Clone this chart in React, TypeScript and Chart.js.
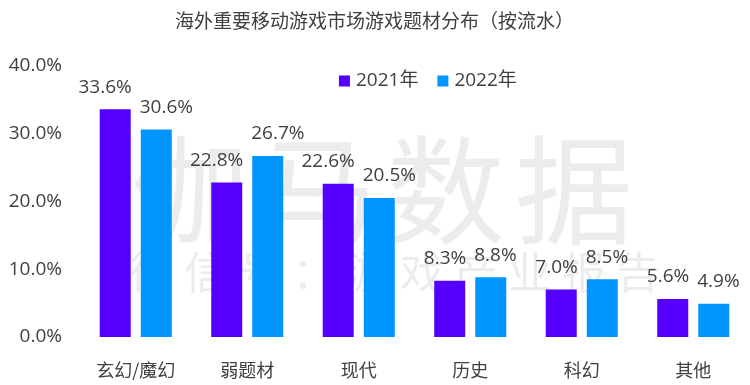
import React, { useEffect, useRef } from "react";
import { Chart, registerables } from "chart.js";

Chart.register(...registerables);

const categories = ["玄幻/魔幻", "弱题材", "现代", "历史", "科幻", "其他"];
const series2021 = [33.6, 22.8, 22.6, 8.3, 7.0, 5.6];
const series2022 = [30.6, 26.7, 20.5, 8.8, 8.5, 4.9];
const seriesNames = ["2021年", "2022年"];
const yTicks = [0, 10, 20, 30, 40];
const titleText = "海外重要移动游戏市场游戏题材分布（按流水）";
const watermarkBig = "伽马数据";
const watermarkSmall = "微信号：游戏产业报告";

const FONT = '"Noto Sans CJK SC", "Noto Sans", sans-serif';
const NUMFONT = '"Open Sans", "Noto Sans CJK SC", sans-serif';
const TEXT = "#404040";
const COLORS = ["#5500FF", "#0096FF"];

const watermarkPlugin = {
  id: "watermark",
  beforeDatasetsDraw(chart: any) {
    const ctx = chart.ctx;
    ctx.save();
    ctx.fillStyle = "rgba(0,0,0,0.075)";
    ctx.textAlign = "center";
    ctx.textBaseline = "middle";
    ctx.font = `118px ${FONT}`;
    const bigStep = 128;
    const bigStart = 190;
    for (let i = 0; i < watermarkBig.length; i++) {
      ctx.fillText(watermarkBig[i], bigStart + i * bigStep, 190);
    }
    ctx.font = `44px ${FONT}`;
    const smStep = 54;
    const smStart = 152;
    for (let i = 0; i < watermarkSmall.length; i++) {
      ctx.fillText(watermarkSmall[i], smStart + i * smStep, 272);
    }
    ctx.restore();
  },
};

const valueLabelPlugin = {
  id: "valueLabels",
  afterDatasetsDraw(chart: any) {
    const ctx = chart.ctx;
    ctx.save();
    ctx.fillStyle = TEXT;
    ctx.font = `19px ${NUMFONT}`;
    ctx.textAlign = "center";
    ctx.textBaseline = "middle";
    const metaA = chart.getDatasetMeta(0);
    const metaB = chart.getDatasetMeta(1);
    const dsA = chart.data.datasets[0].data;
    const dsB = chart.data.datasets[1].data;
    const minGap = 8;
    metaA.data.forEach((barA: any, i: number) => {
      const barB = metaB.data[i];
      const tA = dsA[i].toFixed(1) + "%";
      const tB = dsB[i].toFixed(1) + "%";
      const wA = ctx.measureText(tA).width;
      const wB = ctx.measureText(tB).width;
      let xA = barA.x;
      let xB = barB.x;
      const gap = xB - wB / 2 - (xA + wA / 2);
      if (gap < minGap) {
        const d = (minGap - gap) / 2;
        xA -= d;
        xB += d;
      }
      ctx.fillText(tA, xA, barA.y - 22);
      ctx.fillText(tB, xB, barB.y - 22);
    });
    ctx.restore();
  },
};

const legendPlugin = {
  id: "customLegend",
  afterDraw(chart: any) {
    const ctx = chart.ctx;
    const area = chart.chartArea;
    ctx.save();
    ctx.font = `19px ${NUMFONT}`;
    ctx.textBaseline = "middle";
    ctx.textAlign = "left";
    const box = 11;
    const gapText = 6;
    const gapItem = 19;
    const items = chart.data.datasets.map((ds: any) => ({
      label: ds.label,
      color: ds.backgroundColor,
      w: box + gapText + ctx.measureText(ds.label).width,
    }));
    const total = items.reduce((s: number, it: any) => s + it.w, 0) + gapItem * (items.length - 1);
    const cx = area.left + area.width * 0.52;
    let x = cx - total / 2;
    const y = 81;
    items.forEach((it: any) => {
      ctx.fillStyle = it.color;
      ctx.fillRect(x, y - box / 2, box, box);
      ctx.fillStyle = TEXT;
      ctx.fillText(it.label, x + box + gapText, y);
      x += it.w + gapItem;
    });
    ctx.restore();
  },
};

export default function App() {
  const ref = useRef<HTMLCanvasElement>(null);

  useEffect(() => {
    document.body.style.margin = "0";
    const chart = new Chart(ref.current!, {
      type: "bar",
      data: {
        labels: categories,
        datasets: [
          { label: seriesNames[0], data: series2021, backgroundColor: COLORS[0] },
          { label: seriesNames[1], data: series2022, backgroundColor: COLORS[1] },
        ],
      },
      options: {
        animation: false,
        responsive: false,
        maintainAspectRatio: false,
        datasets: {
          bar: { barPercentage: 0.756, categoryPercentage: 0.736 },
        },
        layout: { padding: { top: 0, left: 0, right: 1, bottom: 0 } },
        plugins: {
          legend: { display: false },
          tooltip: { enabled: false },
          title: {
            display: true,
            text: titleText,
            color: TEXT,
            font: { family: FONT, size: 19, weight: "normal" },
            padding: { top: 9, bottom: 34 },
          },
        },
        scales: {
          x: {
            grid: { display: false, drawTicks: false },
            border: { display: false },
            afterFit: (scale: any) => {
              scale.height = 48;
            },
            ticks: {
              color: TEXT,
              font: { family: FONT, size: 18 },
              padding: 22,
              maxRotation: 0,
            },
          },
          y: {
            min: yTicks[0],
            max: yTicks[yTicks.length - 1],
            grid: { display: false, drawTicks: false },
            border: { display: false },
            afterBuildTicks: (scale: any) => {
              scale.ticks = yTicks.map((v) => ({ value: v }));
            },
            afterFit: (scale: any) => {
              scale.width = 80;
            },
            ticks: {
              color: TEXT,
              font: { family: NUMFONT, size: 19 },
              padding: 18,
              callback: (v: any) => Number(v).toFixed(1) + "%",
            },
          },
        },
      },
      plugins: [watermarkPlugin, valueLabelPlugin, legendPlugin],
    });
    return () => chart.destroy();
  }, []);

  return (
    <div style={{ width: 750, height: 385, background: "#fff" }}>
      <canvas ref={ref} width={750} height={385} style={{ width: 750, height: 385, display: "block" }} />
    </div>
  );
}
